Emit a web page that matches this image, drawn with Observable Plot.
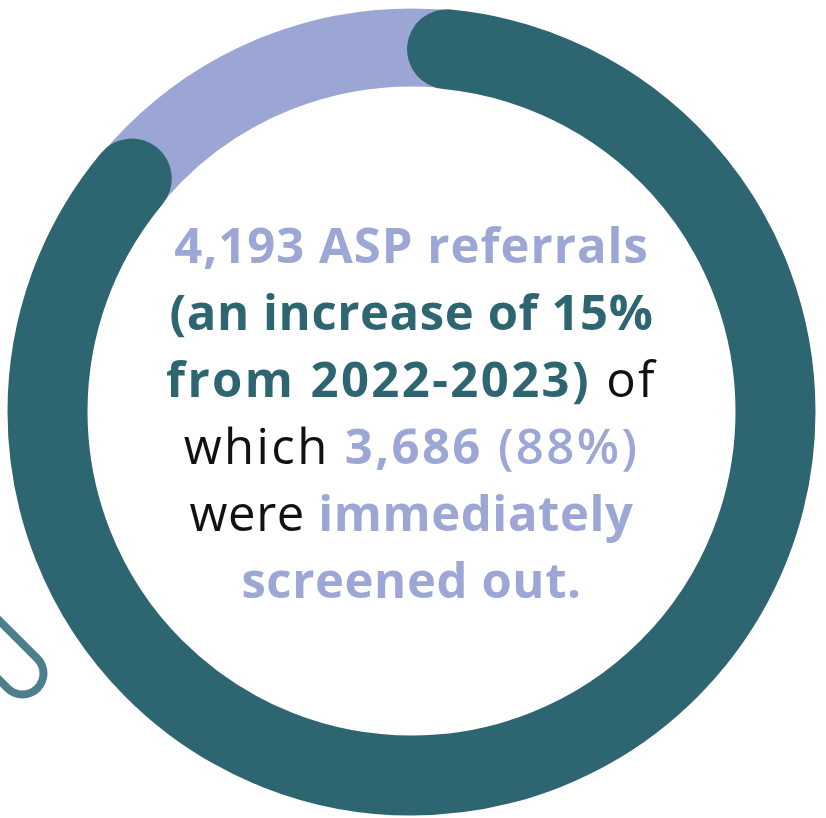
<!DOCTYPE html>
<html>
<head>
<meta charset="utf-8">
<script src="https://cdn.jsdelivr.net/npm/d3@7"></script>
<script src="https://cdn.jsdelivr.net/npm/@observablehq/plot@0.6"></script>
<style>
  html, body { margin: 0; padding: 0; background: #ffffff; }
  #chart { width: 826px; height: 818px; overflow: hidden; }
  svg { display: block; }
</style>
</head>
<body>
<div id="chart"></div>
<script>
// ---- data ----
const segmentLabels = ["Screened out", "Not screened out"];
const segmentShares = [0.88, 0.12];
const totalReferrals = 4193;
const screenedOut = 3686;

// text lines: [text, style]
const lineSegments = [
  [["4,193 ASP referrals", "accent"]],
  [["(an increase of 15%", "primary"]],
  [["from 2022-2023)", "primary"], [" of", "plain"]],
  [["which ", "plain"], ["3,686", "accent"], [" (88%)", "accentLight"]],
  [["were ", "plain"], ["immediately", "accent"]],
  [["screened out.", "accent"]]
];

// ---- styles / layout ----
const W = 826, H = 818;
const cx = 411, cy = 411;
const ringR = 364, ringW = 80;
const teal = "#2d6571", lavender = "#9ca6d4", pillColor = "#4e7e8a";
const startDeg = 5.5; // centreline start, clockwise from 12 o'clock
const styles = {
  accent: {fill: "#9da7d6", weight: 700},
  accentLight: {fill: "#9da7d6", weight: 600},
  primary: {fill: teal, weight: 700},
  plain: {fill: "#111111", weight: 400}
};
const lineSpacing = [1, 0.6, 2.4, 2.4, 0.6, 0.6];
const firstBaseline = 262, lineGap = 67;

const C = 2 * Math.PI * ringR;
const capDeg = (ringW / 2) / ringR * 180 / Math.PI;
const spanDeg = segmentShares[0] * 360 - 2 * capDeg;
const dashLen = spanDeg / 360 * C;
const startLen = (((startDeg - 90) % 360) + 360) % 360 / 360 * C;

const center = [{x: cx, y: cy}];
const pill = [{x1: 22 - 60, y1: 673 - 60, x2: 22, y2: 673}];
const lines = lineSegments.map((segs, i) => ({i, text: segs.map(s => s[0]).join("")}));

const chart = Plot.plot({
  width: W,
  height: H,
  margin: 0,
  x: {domain: [0, W], range: [0, W], axis: null},
  y: {domain: [0, H], range: [0, H], axis: null},
  marks: [
    Plot.link(pill, {x1: "x1", y1: "y1", x2: "x2", y2: "y2", stroke: pillColor, strokeWidth: 50, strokeLinecap: "round"}),
    Plot.link(pill, {x1: "x1", y1: "y1", x2: "x2", y2: "y2", stroke: "#ffffff", strokeWidth: 34, strokeLinecap: "round"}),
    Plot.dot(center, {x: "x", y: "y", r: ringR, fill: "none", stroke: lavender, strokeWidth: ringW - 2}),
    Plot.dot(center, {x: "x", y: "y", r: ringR, fill: "none", stroke: teal, strokeWidth: ringW,
      strokeLinecap: "round", strokeDasharray: `${dashLen} ${C - dashLen}`, strokeDashoffset: -startLen}),
    Plot.text(lines, {x: () => cx, y: d => firstBaseline + d.i * lineGap, text: "text",
      lineAnchor: "bottom", textAnchor: "middle", fontSize: 49, fill: "#111"})
  ]
});

// rebuild each line as styled spans
d3.select(chart).selectAll('g[aria-label="text"] text').each(function(_, k) {
  const segs = lineSegments[k];
  const t = d3.select(this);
  t.text(null).style("letter-spacing", `${lineSpacing[k]}px`).style("white-space", "pre");
  segs.forEach(([txt, st]) => {
    t.append("tspan").text(txt).attr("fill", styles[st].fill).attr("font-weight", styles[st].weight);
  });
});

chart.style.fontFamily = "'Open Sans', sans-serif";
d3.select(chart).selectAll("text").attr("font-family", "'Open Sans', sans-serif");
document.getElementById("chart").appendChild(chart);
</script>
</body>
</html>
